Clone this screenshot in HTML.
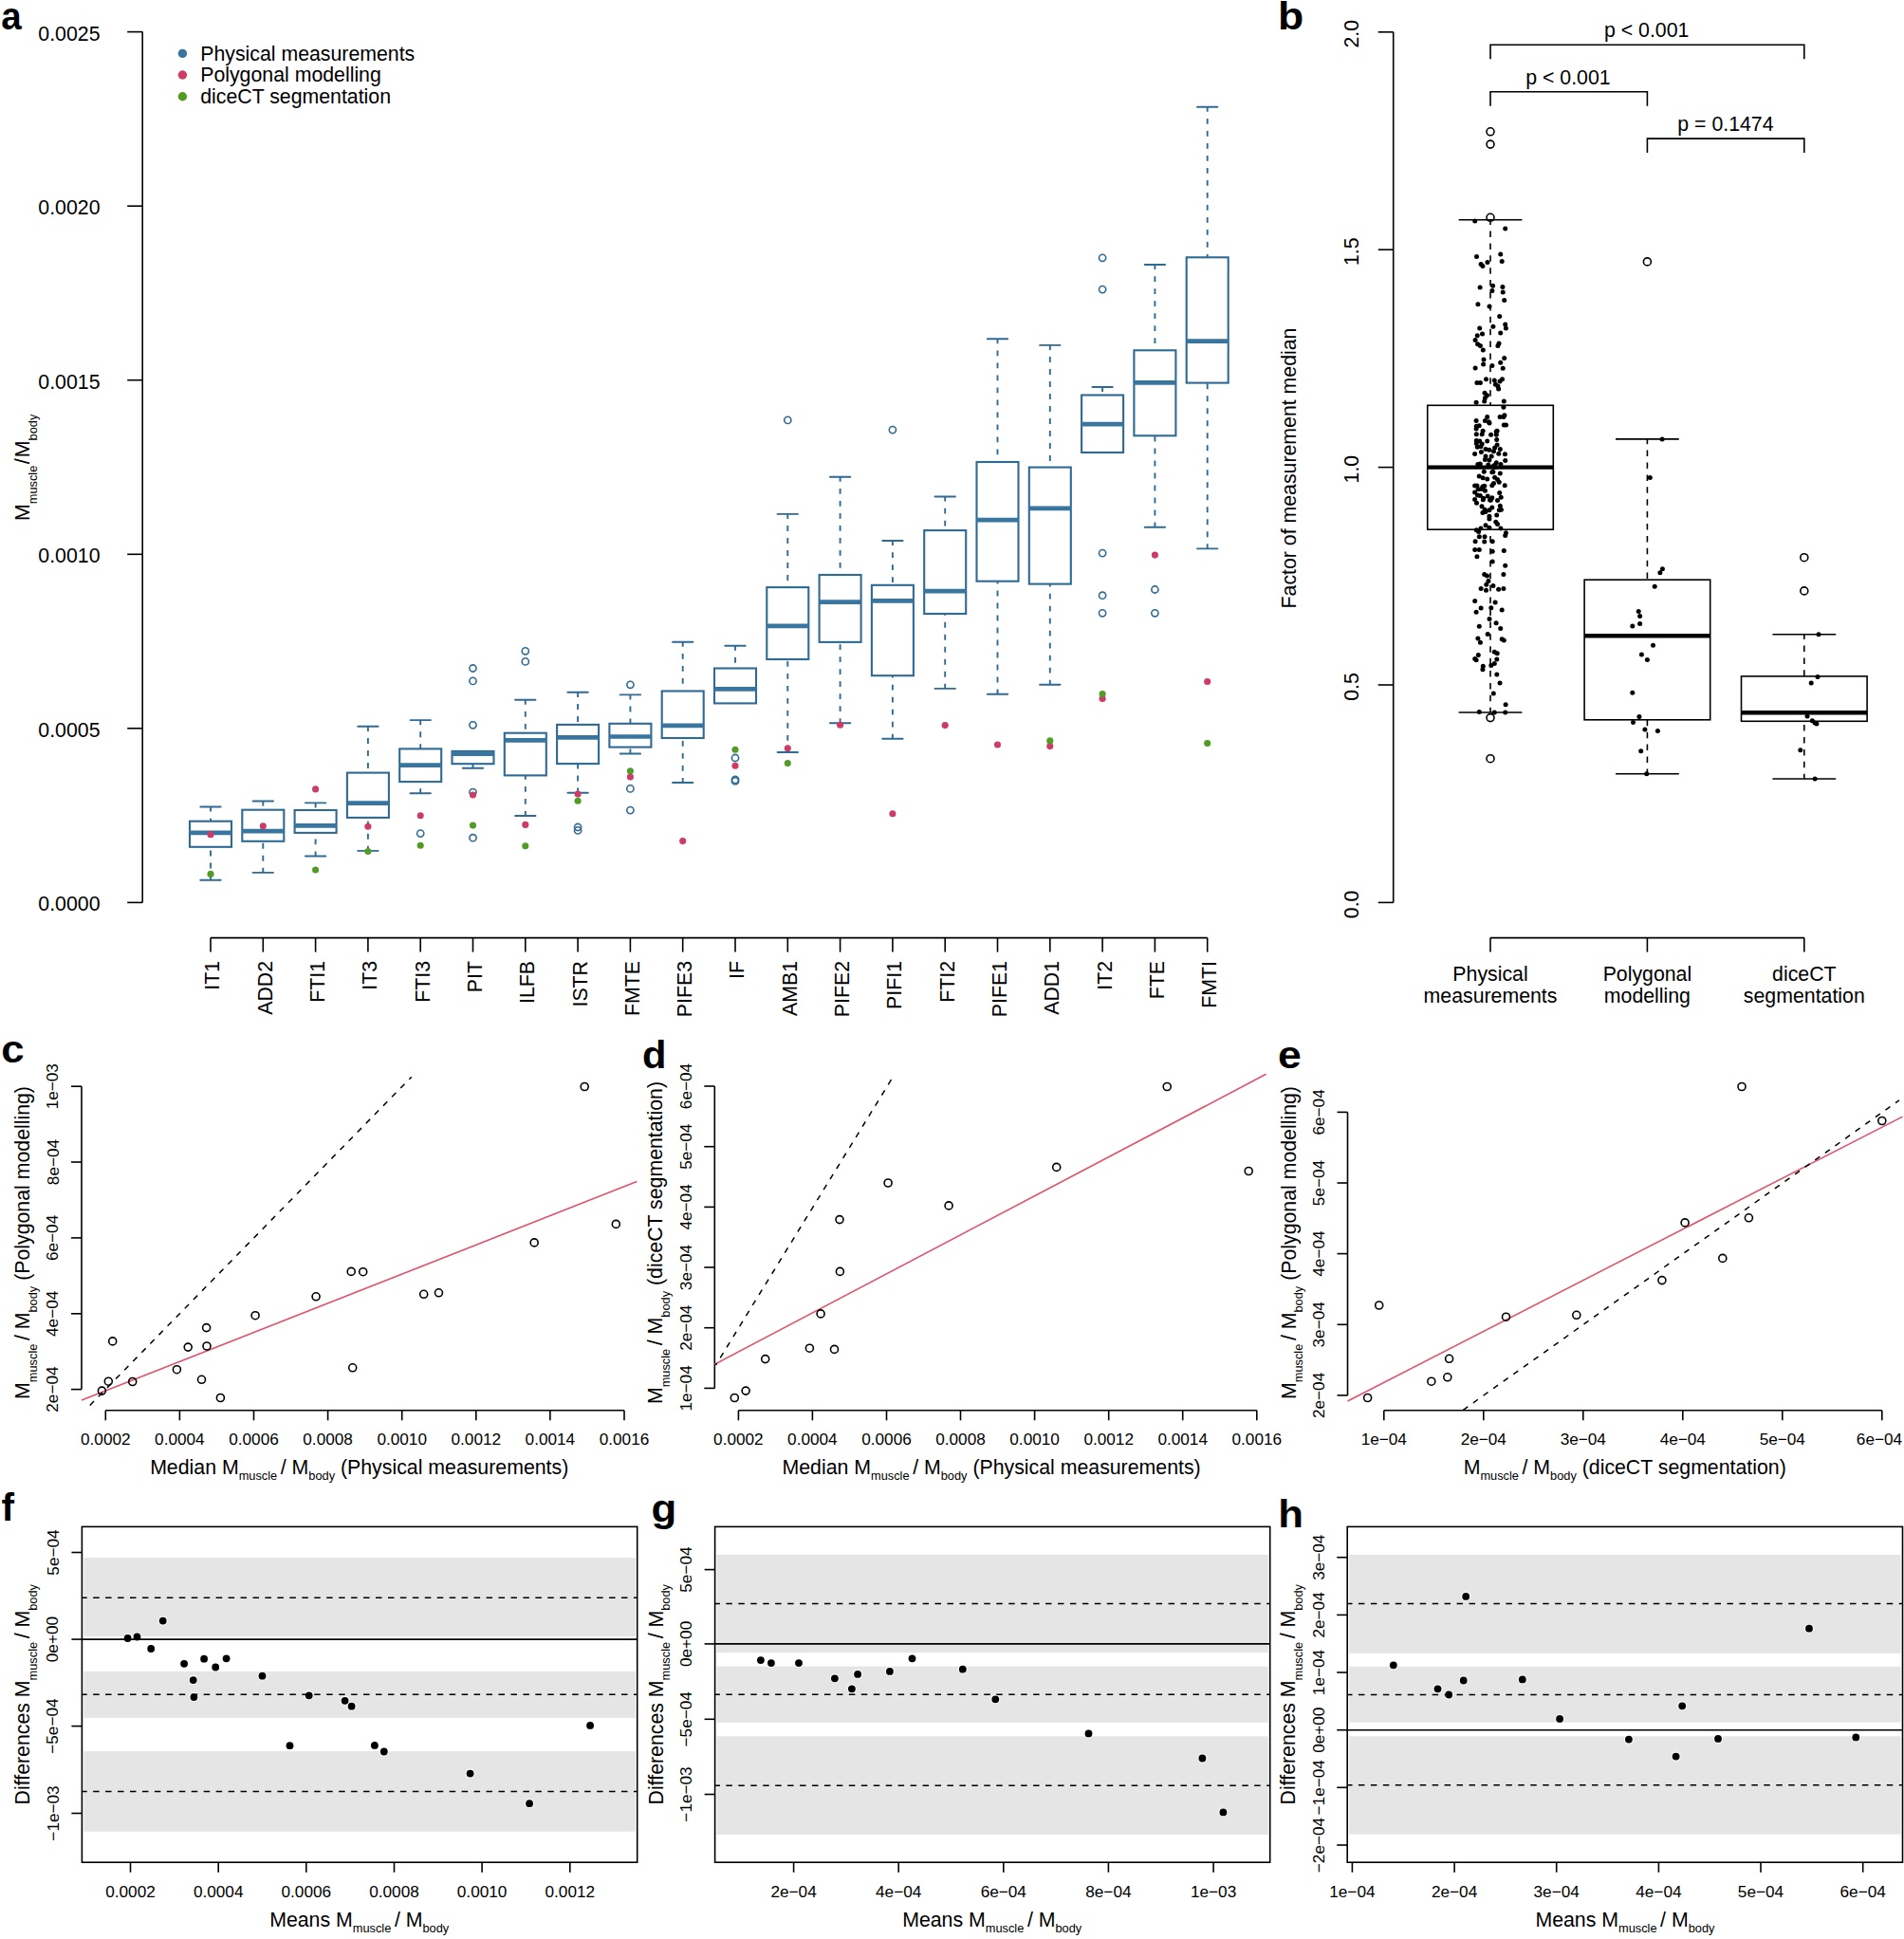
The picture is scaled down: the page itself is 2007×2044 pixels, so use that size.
<!DOCTYPE html>
<html><head><meta charset="utf-8"><title>Figure</title>
<style>html,body{margin:0;padding:0;background:#fff}svg{display:block}</style></head>
<body>
<svg width="2007" height="2044" viewBox="0 0 2007 2044" font-family="Liberation Sans, Arial, Helvetica, sans-serif" fill="#000">
<rect width="2007" height="2044" fill="#fff"/>
<text transform="translate(1.2 30.7) scale(0.95 1)" font-size="40.5" font-weight="bold">a</text>
<text transform="translate(1347.0 30.9) scale(1.1 1)" font-size="40.5" font-weight="bold">b</text>
<text transform="translate(1.3 1119.5) scale(1.08 1)" font-size="40.5" font-weight="bold">c</text>
<text transform="translate(676.9 1125.7) scale(1.03 1)" font-size="40.5" font-weight="bold">d</text>
<text transform="translate(1346.9 1125.7) scale(1.1 1)" font-size="40.5" font-weight="bold">e</text>
<text transform="translate(1.4 1603.0) scale(1.0 1)" font-size="40.5" font-weight="bold">f</text>
<text transform="translate(686.4 1604.1) scale(1.08 1)" font-size="40.5" font-weight="bold">g</text>
<text transform="translate(1347.2 1609.6) scale(1.08 1)" font-size="40.5" font-weight="bold">h</text>
<line x1="150.2" y1="951.4" x2="150.2" y2="33.6" stroke="#000" stroke-width="1.6"/>
<line x1="134.2" y1="951.4" x2="150.2" y2="951.4" stroke="#000" stroke-width="1.6"/>
<text x="105.5" y="960.4" font-size="21.3" text-anchor="end" >0.0000</text>
<line x1="134.2" y1="767.8" x2="150.2" y2="767.8" stroke="#000" stroke-width="1.6"/>
<text x="105.5" y="776.8" font-size="21.3" text-anchor="end" >0.0005</text>
<line x1="134.2" y1="584.3" x2="150.2" y2="584.3" stroke="#000" stroke-width="1.6"/>
<text x="105.5" y="593.3" font-size="21.3" text-anchor="end" >0.0010</text>
<line x1="134.2" y1="400.7" x2="150.2" y2="400.7" stroke="#000" stroke-width="1.6"/>
<text x="105.5" y="409.7" font-size="21.3" text-anchor="end" >0.0015</text>
<line x1="134.2" y1="217.2" x2="150.2" y2="217.2" stroke="#000" stroke-width="1.6"/>
<text x="105.5" y="226.2" font-size="21.3" text-anchor="end" >0.0020</text>
<line x1="134.2" y1="33.6" x2="150.2" y2="33.6" stroke="#000" stroke-width="1.6"/>
<text x="105.5" y="42.6" font-size="21.3" text-anchor="end" >0.0025</text>
<text x="30.9" y="492.8" font-size="21.3" text-anchor="middle" transform="rotate(-90 30.9 492.8)" >M<tspan font-size="12.8" dy="7.9">muscle</tspan><tspan dy="-7.9" dx="1.3">/</tspan><tspan dx="1.3">M</tspan><tspan font-size="12.8" dy="7.9">body</tspan></text>
<circle cx="192.4" cy="56.4" r="4.7" fill="#3876A0"/>
<text x="211.2" y="63.7" font-size="21.3" text-anchor="start" >Physical measurements</text>
<circle cx="192.4" cy="79.0" r="4.7" fill="#CD3C66"/>
<text x="211.2" y="86.3" font-size="21.3" text-anchor="start" >Polygonal modelling</text>
<circle cx="192.4" cy="101.8" r="4.7" fill="#529C26"/>
<text x="211.2" y="109.1" font-size="21.3" text-anchor="start" >diceCT segmentation</text>
<line x1="222.0" y1="988.6" x2="1272.7" y2="988.6" stroke="#000" stroke-width="1.6"/>
<line x1="222.0" y1="988.6" x2="222.0" y2="1003.6" stroke="#000" stroke-width="1.6"/>
<text x="231.4" y="1013.0" font-size="21.3" text-anchor="end" transform="rotate(-90 231.4 1013.0)" >IT1</text>
<line x1="277.3" y1="988.6" x2="277.3" y2="1003.6" stroke="#000" stroke-width="1.6"/>
<text x="286.7" y="1013.0" font-size="21.3" text-anchor="end" transform="rotate(-90 286.7 1013.0)" >ADD2</text>
<line x1="332.6" y1="988.6" x2="332.6" y2="1003.6" stroke="#000" stroke-width="1.6"/>
<text x="342.0" y="1013.0" font-size="21.3" text-anchor="end" transform="rotate(-90 342.0 1013.0)" >FTI1</text>
<line x1="387.9" y1="988.6" x2="387.9" y2="1003.6" stroke="#000" stroke-width="1.6"/>
<text x="397.3" y="1013.0" font-size="21.3" text-anchor="end" transform="rotate(-90 397.3 1013.0)" >IT3</text>
<line x1="443.2" y1="988.6" x2="443.2" y2="1003.6" stroke="#000" stroke-width="1.6"/>
<text x="452.6" y="1013.0" font-size="21.3" text-anchor="end" transform="rotate(-90 452.6 1013.0)" >FTI3</text>
<line x1="498.5" y1="988.6" x2="498.5" y2="1003.6" stroke="#000" stroke-width="1.6"/>
<text x="507.9" y="1013.0" font-size="21.3" text-anchor="end" transform="rotate(-90 507.9 1013.0)" >PIT</text>
<line x1="553.8" y1="988.6" x2="553.8" y2="1003.6" stroke="#000" stroke-width="1.6"/>
<text x="563.2" y="1013.0" font-size="21.3" text-anchor="end" transform="rotate(-90 563.2 1013.0)" >ILFB</text>
<line x1="609.1" y1="988.6" x2="609.1" y2="1003.6" stroke="#000" stroke-width="1.6"/>
<text x="618.5" y="1013.0" font-size="21.3" text-anchor="end" transform="rotate(-90 618.5 1013.0)" >ISTR</text>
<line x1="664.4" y1="988.6" x2="664.4" y2="1003.6" stroke="#000" stroke-width="1.6"/>
<text x="673.8" y="1013.0" font-size="21.3" text-anchor="end" transform="rotate(-90 673.8 1013.0)" >FMTE</text>
<line x1="719.7" y1="988.6" x2="719.7" y2="1003.6" stroke="#000" stroke-width="1.6"/>
<text x="729.1" y="1013.0" font-size="21.3" text-anchor="end" transform="rotate(-90 729.1 1013.0)" >PIFE3</text>
<line x1="775.0" y1="988.6" x2="775.0" y2="1003.6" stroke="#000" stroke-width="1.6"/>
<text x="784.4" y="1013.0" font-size="21.3" text-anchor="end" transform="rotate(-90 784.4 1013.0)" >IF</text>
<line x1="830.3" y1="988.6" x2="830.3" y2="1003.6" stroke="#000" stroke-width="1.6"/>
<text x="839.7" y="1013.0" font-size="21.3" text-anchor="end" transform="rotate(-90 839.7 1013.0)" >AMB1</text>
<line x1="885.6" y1="988.6" x2="885.6" y2="1003.6" stroke="#000" stroke-width="1.6"/>
<text x="895.0" y="1013.0" font-size="21.3" text-anchor="end" transform="rotate(-90 895.0 1013.0)" >PIFE2</text>
<line x1="940.9" y1="988.6" x2="940.9" y2="1003.6" stroke="#000" stroke-width="1.6"/>
<text x="950.3" y="1013.0" font-size="21.3" text-anchor="end" transform="rotate(-90 950.3 1013.0)" >PIFI1</text>
<line x1="996.2" y1="988.6" x2="996.2" y2="1003.6" stroke="#000" stroke-width="1.6"/>
<text x="1005.6" y="1013.0" font-size="21.3" text-anchor="end" transform="rotate(-90 1005.6 1013.0)" >FTI2</text>
<line x1="1051.5" y1="988.6" x2="1051.5" y2="1003.6" stroke="#000" stroke-width="1.6"/>
<text x="1060.9" y="1013.0" font-size="21.3" text-anchor="end" transform="rotate(-90 1060.9 1013.0)" >PIFE1</text>
<line x1="1106.8" y1="988.6" x2="1106.8" y2="1003.6" stroke="#000" stroke-width="1.6"/>
<text x="1116.2" y="1013.0" font-size="21.3" text-anchor="end" transform="rotate(-90 1116.2 1013.0)" >ADD1</text>
<line x1="1162.1" y1="988.6" x2="1162.1" y2="1003.6" stroke="#000" stroke-width="1.6"/>
<text x="1171.5" y="1013.0" font-size="21.3" text-anchor="end" transform="rotate(-90 1171.5 1013.0)" >IT2</text>
<line x1="1217.4" y1="988.6" x2="1217.4" y2="1003.6" stroke="#000" stroke-width="1.6"/>
<text x="1226.8" y="1013.0" font-size="21.3" text-anchor="end" transform="rotate(-90 1226.8 1013.0)" >FTE</text>
<line x1="1272.7" y1="988.6" x2="1272.7" y2="1003.6" stroke="#000" stroke-width="1.6"/>
<text x="1282.1" y="1013.0" font-size="21.3" text-anchor="end" transform="rotate(-90 1282.1 1013.0)" >FMTI</text>
<g stroke="#2F6A95" stroke-width="1.9" fill="none" stroke-linecap="round">
<line x1="222.0" y1="850.5" x2="222.0" y2="865.7" stroke-dasharray="5.9 7.1" stroke-dashoffset="0.8" stroke-linecap="butt"/>
<line x1="211.3" y1="850.5" x2="232.7" y2="850.5"/>
<line x1="222.0" y1="927.7" x2="222.0" y2="892.8" stroke-dasharray="5.9 7.1" stroke-dashoffset="0.8" stroke-linecap="butt"/>
<line x1="211.3" y1="927.7" x2="232.7" y2="927.7"/>
<rect x="200.0" y="865.7" width="44.0" height="27.1" fill="#fff" stroke-width="2.1"/>
<line x1="200.0" y1="877.9" x2="244.0" y2="877.9" stroke-width="4.7" stroke-linecap="butt" stroke="#3876A0"/>
</g>
<circle cx="222.0" cy="879.8" r="3.55" fill="#CD3C66"/>
<circle cx="222.0" cy="921.4" r="3.55" fill="#529C26"/>
<g stroke="#2F6A95" stroke-width="1.9" fill="none" stroke-linecap="round">
<line x1="277.3" y1="844.5" x2="277.3" y2="853.7" stroke-dasharray="5.9 7.1" stroke-dashoffset="0.8" stroke-linecap="butt"/>
<line x1="266.6" y1="844.5" x2="288.0" y2="844.5"/>
<line x1="277.3" y1="919.9" x2="277.3" y2="886.8" stroke-dasharray="5.9 7.1" stroke-dashoffset="0.8" stroke-linecap="butt"/>
<line x1="266.6" y1="919.9" x2="288.0" y2="919.9"/>
<rect x="255.3" y="853.7" width="44.0" height="33.1" fill="#fff" stroke-width="2.1"/>
<line x1="255.3" y1="876.1" x2="299.3" y2="876.1" stroke-width="4.7" stroke-linecap="butt" stroke="#3876A0"/>
</g>
<circle cx="277.3" cy="870.7" r="3.55" fill="#CD3C66"/>
<g stroke="#2F6A95" stroke-width="1.9" fill="none" stroke-linecap="round">
<line x1="332.6" y1="846.4" x2="332.6" y2="854.0" stroke-dasharray="5.9 7.1" stroke-dashoffset="0.8" stroke-linecap="butt"/>
<line x1="321.9" y1="846.4" x2="343.3" y2="846.4"/>
<line x1="332.6" y1="902.5" x2="332.6" y2="877.9" stroke-dasharray="5.9 7.1" stroke-dashoffset="0.8" stroke-linecap="butt"/>
<line x1="321.9" y1="902.5" x2="343.3" y2="902.5"/>
<rect x="310.6" y="854.0" width="44.0" height="23.9" fill="#fff" stroke-width="2.1"/>
<line x1="310.6" y1="870.4" x2="354.6" y2="870.4" stroke-width="4.7" stroke-linecap="butt" stroke="#3876A0"/>
</g>
<circle cx="332.6" cy="831.9" r="3.55" fill="#CD3C66"/>
<circle cx="332.6" cy="917.0" r="3.55" fill="#529C26"/>
<g stroke="#2F6A95" stroke-width="1.9" fill="none" stroke-linecap="round">
<line x1="387.9" y1="765.8" x2="387.9" y2="814.6" stroke-dasharray="5.9 7.1" stroke-dashoffset="0.8" stroke-linecap="butt"/>
<line x1="377.2" y1="765.8" x2="398.6" y2="765.8"/>
<line x1="387.9" y1="896.9" x2="387.9" y2="861.9" stroke-dasharray="5.9 7.1" stroke-dashoffset="0.8" stroke-linecap="butt"/>
<line x1="377.2" y1="896.9" x2="398.6" y2="896.9"/>
<rect x="365.9" y="814.6" width="44.0" height="47.3" fill="#fff" stroke-width="2.1"/>
<line x1="365.9" y1="846.7" x2="409.9" y2="846.7" stroke-width="4.7" stroke-linecap="butt" stroke="#3876A0"/>
</g>
<circle cx="387.9" cy="871.3" r="3.55" fill="#CD3C66"/>
<circle cx="387.9" cy="897.5" r="3.55" fill="#529C26"/>
<g stroke="#2F6A95" stroke-width="1.9" fill="none" stroke-linecap="round">
<line x1="443.2" y1="759.1" x2="443.2" y2="789.4" stroke-dasharray="5.9 7.1" stroke-dashoffset="0.8" stroke-linecap="butt"/>
<line x1="432.5" y1="759.1" x2="453.9" y2="759.1"/>
<line x1="443.2" y1="836.3" x2="443.2" y2="824.1" stroke-dasharray="5.9 7.1" stroke-dashoffset="0.8" stroke-linecap="butt"/>
<line x1="432.5" y1="836.3" x2="453.9" y2="836.3"/>
<rect x="421.2" y="789.4" width="44.0" height="34.7" fill="#fff" stroke-width="2.1"/>
<line x1="421.2" y1="806.7" x2="465.2" y2="806.7" stroke-width="4.7" stroke-linecap="butt" stroke="#3876A0"/>
<circle cx="443.2" cy="878.6" r="3.6" stroke-width="1.6"/>
</g>
<circle cx="443.2" cy="859.7" r="3.55" fill="#CD3C66"/>
<circle cx="443.2" cy="891.2" r="3.55" fill="#529C26"/>
<g stroke="#2F6A95" stroke-width="1.9" fill="none" stroke-linecap="round">
<line x1="498.5" y1="809.8" x2="498.5" y2="805.2" stroke-dasharray="5.9 7.1" stroke-dashoffset="0.8" stroke-linecap="butt"/>
<line x1="487.8" y1="809.8" x2="509.2" y2="809.8"/>
<rect x="476.5" y="791.9" width="44.0" height="13.3" fill="#fff" stroke-width="2.1"/>
<line x1="476.5" y1="794.7" x2="520.5" y2="794.7" stroke-width="4.7" stroke-linecap="butt" stroke="#3876A0"/>
<circle cx="498.5" cy="704.5" r="3.6" stroke-width="1.6"/>
<circle cx="498.5" cy="717.9" r="3.6" stroke-width="1.6"/>
<circle cx="498.5" cy="764.3" r="3.6" stroke-width="1.6"/>
<circle cx="498.5" cy="835.1" r="3.6" stroke-width="1.6"/>
<circle cx="498.5" cy="883.2" r="3.6" stroke-width="1.6"/>
</g>
<circle cx="498.5" cy="838.0" r="3.55" fill="#CD3C66"/>
<circle cx="498.5" cy="870.1" r="3.55" fill="#529C26"/>
<g stroke="#2F6A95" stroke-width="1.9" fill="none" stroke-linecap="round">
<line x1="553.8" y1="737.7" x2="553.8" y2="772.7" stroke-dasharray="5.9 7.1" stroke-dashoffset="0.8" stroke-linecap="butt"/>
<line x1="543.1" y1="737.7" x2="564.5" y2="737.7"/>
<line x1="553.8" y1="860.0" x2="553.8" y2="817.4" stroke-dasharray="5.9 7.1" stroke-dashoffset="0.8" stroke-linecap="butt"/>
<line x1="543.1" y1="860.0" x2="564.5" y2="860.0"/>
<rect x="531.8" y="772.7" width="44.0" height="44.7" fill="#fff" stroke-width="2.1"/>
<line x1="531.8" y1="780.3" x2="575.8" y2="780.3" stroke-width="4.7" stroke-linecap="butt" stroke="#3876A0"/>
<circle cx="553.8" cy="686.3" r="3.6" stroke-width="1.6"/>
<circle cx="553.8" cy="697.4" r="3.6" stroke-width="1.6"/>
</g>
<circle cx="553.8" cy="869.4" r="3.55" fill="#CD3C66"/>
<circle cx="553.8" cy="891.8" r="3.55" fill="#529C26"/>
<g stroke="#2F6A95" stroke-width="1.9" fill="none" stroke-linecap="round">
<line x1="609.1" y1="729.8" x2="609.1" y2="763.9" stroke-dasharray="5.9 7.1" stroke-dashoffset="0.8" stroke-linecap="butt"/>
<line x1="598.4" y1="729.8" x2="619.8" y2="729.8"/>
<line x1="609.1" y1="835.7" x2="609.1" y2="805.1" stroke-dasharray="5.9 7.1" stroke-dashoffset="0.8" stroke-linecap="butt"/>
<line x1="598.4" y1="835.7" x2="619.8" y2="835.7"/>
<rect x="587.1" y="763.9" width="44.0" height="41.2" fill="#fff" stroke-width="2.1"/>
<line x1="587.1" y1="777.4" x2="631.1" y2="777.4" stroke-width="4.7" stroke-linecap="butt" stroke="#3876A0"/>
<circle cx="609.1" cy="872.0" r="3.6" stroke-width="1.6"/>
<circle cx="609.1" cy="875.4" r="3.6" stroke-width="1.6"/>
</g>
<circle cx="609.1" cy="837.0" r="3.55" fill="#CD3C66"/>
<circle cx="609.1" cy="844.2" r="3.55" fill="#529C26"/>
<g stroke="#2F6A95" stroke-width="1.9" fill="none" stroke-linecap="round">
<line x1="664.4" y1="732.4" x2="664.4" y2="762.8" stroke-dasharray="5.9 7.1" stroke-dashoffset="0.8" stroke-linecap="butt"/>
<line x1="653.7" y1="732.4" x2="675.1" y2="732.4"/>
<line x1="664.4" y1="794.5" x2="664.4" y2="787.6" stroke-dasharray="5.9 7.1" stroke-dashoffset="0.8" stroke-linecap="butt"/>
<line x1="653.7" y1="794.5" x2="675.1" y2="794.5"/>
<rect x="642.4" y="762.8" width="44.0" height="24.8" fill="#fff" stroke-width="2.1"/>
<line x1="642.4" y1="776.5" x2="686.4" y2="776.5" stroke-width="4.7" stroke-linecap="butt" stroke="#3876A0"/>
<circle cx="664.4" cy="721.8" r="3.6" stroke-width="1.6"/>
<circle cx="664.4" cy="831.4" r="3.6" stroke-width="1.6"/>
<circle cx="664.4" cy="854.1" r="3.6" stroke-width="1.6"/>
</g>
<circle cx="664.4" cy="819.0" r="3.55" fill="#CD3C66"/>
<circle cx="664.4" cy="812.8" r="3.55" fill="#529C26"/>
<g stroke="#2F6A95" stroke-width="1.9" fill="none" stroke-linecap="round">
<line x1="719.7" y1="676.7" x2="719.7" y2="728.5" stroke-dasharray="5.9 7.1" stroke-dashoffset="0.8" stroke-linecap="butt"/>
<line x1="709.0" y1="676.7" x2="730.4" y2="676.7"/>
<line x1="719.7" y1="825.0" x2="719.7" y2="778.0" stroke-dasharray="5.9 7.1" stroke-dashoffset="0.8" stroke-linecap="butt"/>
<line x1="709.0" y1="825.0" x2="730.4" y2="825.0"/>
<rect x="697.7" y="728.5" width="44.0" height="49.5" fill="#fff" stroke-width="2.1"/>
<line x1="697.7" y1="764.9" x2="741.7" y2="764.9" stroke-width="4.7" stroke-linecap="butt" stroke="#3876A0"/>
</g>
<circle cx="719.7" cy="886.6" r="3.55" fill="#CD3C66"/>
<g stroke="#2F6A95" stroke-width="1.9" fill="none" stroke-linecap="round">
<line x1="775.0" y1="680.7" x2="775.0" y2="704.5" stroke-dasharray="5.9 7.1" stroke-dashoffset="0.8" stroke-linecap="butt"/>
<line x1="764.3" y1="680.7" x2="785.7" y2="680.7"/>
<rect x="753.0" y="704.5" width="44.0" height="36.9" fill="#fff" stroke-width="2.1"/>
<line x1="753.0" y1="726.3" x2="797.0" y2="726.3" stroke-width="4.7" stroke-linecap="butt" stroke="#3876A0"/>
<circle cx="775.0" cy="799.0" r="3.6" stroke-width="1.6"/>
<circle cx="775.0" cy="821.9" r="3.6" stroke-width="1.6"/>
<circle cx="775.0" cy="823.4" r="3.6" stroke-width="1.6"/>
</g>
<circle cx="775.0" cy="807.3" r="3.55" fill="#CD3C66"/>
<circle cx="775.0" cy="790.3" r="3.55" fill="#529C26"/>
<g stroke="#2F6A95" stroke-width="1.9" fill="none" stroke-linecap="round">
<line x1="830.3" y1="541.9" x2="830.3" y2="619.1" stroke-dasharray="5.9 7.1" stroke-dashoffset="0.8" stroke-linecap="butt"/>
<line x1="819.6" y1="541.9" x2="841.0" y2="541.9"/>
<line x1="830.3" y1="793.0" x2="830.3" y2="695.0" stroke-dasharray="5.9 7.1" stroke-dashoffset="0.8" stroke-linecap="butt"/>
<line x1="819.6" y1="793.0" x2="841.0" y2="793.0"/>
<rect x="808.3" y="619.1" width="44.0" height="75.9" fill="#fff" stroke-width="2.1"/>
<line x1="808.3" y1="659.9" x2="852.3" y2="659.9" stroke-width="4.7" stroke-linecap="butt" stroke="#3876A0"/>
<circle cx="830.3" cy="442.9" r="3.6" stroke-width="1.6"/>
</g>
<circle cx="830.3" cy="788.8" r="3.55" fill="#CD3C66"/>
<circle cx="830.3" cy="804.6" r="3.55" fill="#529C26"/>
<g stroke="#2F6A95" stroke-width="1.9" fill="none" stroke-linecap="round">
<line x1="885.6" y1="502.7" x2="885.6" y2="606.0" stroke-dasharray="5.9 7.1" stroke-dashoffset="0.8" stroke-linecap="butt"/>
<line x1="874.9" y1="502.7" x2="896.3" y2="502.7"/>
<line x1="885.6" y1="762.3" x2="885.6" y2="676.9" stroke-dasharray="5.9 7.1" stroke-dashoffset="0.8" stroke-linecap="butt"/>
<line x1="874.9" y1="762.3" x2="896.3" y2="762.3"/>
<rect x="863.6" y="606.0" width="44.0" height="70.9" fill="#fff" stroke-width="2.1"/>
<line x1="863.6" y1="634.6" x2="907.6" y2="634.6" stroke-width="4.7" stroke-linecap="butt" stroke="#3876A0"/>
</g>
<circle cx="885.6" cy="764.3" r="3.55" fill="#CD3C66"/>
<g stroke="#2F6A95" stroke-width="1.9" fill="none" stroke-linecap="round">
<line x1="940.9" y1="570.0" x2="940.9" y2="616.8" stroke-dasharray="5.9 7.1" stroke-dashoffset="0.8" stroke-linecap="butt"/>
<line x1="930.2" y1="570.0" x2="951.6" y2="570.0"/>
<line x1="940.9" y1="778.8" x2="940.9" y2="712.2" stroke-dasharray="5.9 7.1" stroke-dashoffset="0.8" stroke-linecap="butt"/>
<line x1="930.2" y1="778.8" x2="951.6" y2="778.8"/>
<rect x="918.9" y="616.8" width="44.0" height="95.4" fill="#fff" stroke-width="2.1"/>
<line x1="918.9" y1="633.3" x2="962.9" y2="633.3" stroke-width="4.7" stroke-linecap="butt" stroke="#3876A0"/>
<circle cx="940.9" cy="453.1" r="3.6" stroke-width="1.6"/>
</g>
<circle cx="940.9" cy="857.7" r="3.55" fill="#CD3C66"/>
<g stroke="#2F6A95" stroke-width="1.9" fill="none" stroke-linecap="round">
<line x1="996.2" y1="523.5" x2="996.2" y2="559.1" stroke-dasharray="5.9 7.1" stroke-dashoffset="0.8" stroke-linecap="butt"/>
<line x1="985.5" y1="523.5" x2="1006.9" y2="523.5"/>
<line x1="996.2" y1="725.9" x2="996.2" y2="647.0" stroke-dasharray="5.9 7.1" stroke-dashoffset="0.8" stroke-linecap="butt"/>
<line x1="985.5" y1="725.9" x2="1006.9" y2="725.9"/>
<rect x="974.2" y="559.1" width="44.0" height="87.9" fill="#fff" stroke-width="2.1"/>
<line x1="974.2" y1="623.2" x2="1018.2" y2="623.2" stroke-width="4.7" stroke-linecap="butt" stroke="#3876A0"/>
</g>
<circle cx="996.2" cy="764.6" r="3.55" fill="#CD3C66"/>
<g stroke="#2F6A95" stroke-width="1.9" fill="none" stroke-linecap="round">
<line x1="1051.5" y1="357.2" x2="1051.5" y2="487.0" stroke-dasharray="5.9 7.1" stroke-dashoffset="0.8" stroke-linecap="butt"/>
<line x1="1040.8" y1="357.2" x2="1062.2" y2="357.2"/>
<line x1="1051.5" y1="731.7" x2="1051.5" y2="612.7" stroke-dasharray="5.9 7.1" stroke-dashoffset="0.8" stroke-linecap="butt"/>
<line x1="1040.8" y1="731.7" x2="1062.2" y2="731.7"/>
<rect x="1029.5" y="487.0" width="44.0" height="125.7" fill="#fff" stroke-width="2.1"/>
<line x1="1029.5" y1="548.2" x2="1073.5" y2="548.2" stroke-width="4.7" stroke-linecap="butt" stroke="#3876A0"/>
</g>
<circle cx="1051.5" cy="785.0" r="3.55" fill="#CD3C66"/>
<g stroke="#2F6A95" stroke-width="1.9" fill="none" stroke-linecap="round">
<line x1="1106.8" y1="363.9" x2="1106.8" y2="492.6" stroke-dasharray="5.9 7.1" stroke-dashoffset="0.8" stroke-linecap="butt"/>
<line x1="1096.1" y1="363.9" x2="1117.5" y2="363.9"/>
<line x1="1106.8" y1="721.8" x2="1106.8" y2="615.6" stroke-dasharray="5.9 7.1" stroke-dashoffset="0.8" stroke-linecap="butt"/>
<line x1="1096.1" y1="721.8" x2="1117.5" y2="721.8"/>
<rect x="1084.8" y="492.6" width="44.0" height="123.0" fill="#fff" stroke-width="2.1"/>
<line x1="1084.8" y1="535.9" x2="1128.8" y2="535.9" stroke-width="4.7" stroke-linecap="butt" stroke="#3876A0"/>
</g>
<circle cx="1106.8" cy="786.6" r="3.55" fill="#CD3C66"/>
<circle cx="1106.8" cy="780.9" r="3.55" fill="#529C26"/>
<g stroke="#2F6A95" stroke-width="1.9" fill="none" stroke-linecap="round">
<line x1="1162.1" y1="408.0" x2="1162.1" y2="416.5" stroke-dasharray="5.9 7.1" stroke-dashoffset="0.8" stroke-linecap="butt"/>
<line x1="1151.4" y1="408.0" x2="1172.8" y2="408.0"/>
<rect x="1140.1" y="416.5" width="44.0" height="60.5" fill="#fff" stroke-width="2.1"/>
<line x1="1140.1" y1="447.2" x2="1184.1" y2="447.2" stroke-width="4.7" stroke-linecap="butt" stroke="#3876A0"/>
<circle cx="1162.1" cy="271.8" r="3.6" stroke-width="1.6"/>
<circle cx="1162.1" cy="305.1" r="3.6" stroke-width="1.6"/>
<circle cx="1162.1" cy="583.1" r="3.6" stroke-width="1.6"/>
<circle cx="1162.1" cy="627.7" r="3.6" stroke-width="1.6"/>
<circle cx="1162.1" cy="646.3" r="3.6" stroke-width="1.6"/>
</g>
<circle cx="1162.1" cy="736.5" r="3.55" fill="#CD3C66"/>
<circle cx="1162.1" cy="731.6" r="3.55" fill="#529C26"/>
<g stroke="#2F6A95" stroke-width="1.9" fill="none" stroke-linecap="round">
<line x1="1217.4" y1="279.0" x2="1217.4" y2="369.3" stroke-dasharray="5.9 7.1" stroke-dashoffset="0.8" stroke-linecap="butt"/>
<line x1="1206.7" y1="279.0" x2="1228.1" y2="279.0"/>
<line x1="1217.4" y1="555.7" x2="1217.4" y2="459.3" stroke-dasharray="5.9 7.1" stroke-dashoffset="0.8" stroke-linecap="butt"/>
<line x1="1206.7" y1="555.7" x2="1228.1" y2="555.7"/>
<rect x="1195.4" y="369.3" width="44.0" height="90.0" fill="#fff" stroke-width="2.1"/>
<line x1="1195.4" y1="403.3" x2="1239.4" y2="403.3" stroke-width="4.7" stroke-linecap="butt" stroke="#3876A0"/>
<circle cx="1217.4" cy="621.5" r="3.6" stroke-width="1.6"/>
<circle cx="1217.4" cy="646.3" r="3.6" stroke-width="1.6"/>
</g>
<circle cx="1217.4" cy="585.1" r="3.55" fill="#CD3C66"/>
<g stroke="#2F6A95" stroke-width="1.9" fill="none" stroke-linecap="round">
<line x1="1272.7" y1="112.7" x2="1272.7" y2="271.3" stroke-dasharray="5.9 7.1" stroke-dashoffset="0.8" stroke-linecap="butt"/>
<line x1="1262.0" y1="112.7" x2="1283.4" y2="112.7"/>
<line x1="1272.7" y1="578.4" x2="1272.7" y2="403.6" stroke-dasharray="5.9 7.1" stroke-dashoffset="0.8" stroke-linecap="butt"/>
<line x1="1262.0" y1="578.4" x2="1283.4" y2="578.4"/>
<rect x="1250.7" y="271.3" width="44.0" height="132.3" fill="#fff" stroke-width="2.1"/>
<line x1="1250.7" y1="359.7" x2="1294.7" y2="359.7" stroke-width="4.7" stroke-linecap="butt" stroke="#3876A0"/>
</g>
<circle cx="1272.7" cy="718.5" r="3.55" fill="#CD3C66"/>
<circle cx="1272.7" cy="783.5" r="3.55" fill="#529C26"/>
<line x1="1468.7" y1="951.4" x2="1468.7" y2="33.8" stroke="#000" stroke-width="1.6"/>
<line x1="1452.7" y1="951.4" x2="1468.7" y2="951.4" stroke="#000" stroke-width="1.6"/>
<text x="1431.9" y="953.4" font-size="21.3" text-anchor="middle" transform="rotate(-90 1431.9 953.4)" >0.0</text>
<line x1="1452.7" y1="722.0" x2="1468.7" y2="722.0" stroke="#000" stroke-width="1.6"/>
<text x="1431.9" y="724.0" font-size="21.3" text-anchor="middle" transform="rotate(-90 1431.9 724.0)" >0.5</text>
<line x1="1452.7" y1="492.6" x2="1468.7" y2="492.6" stroke="#000" stroke-width="1.6"/>
<text x="1431.9" y="494.6" font-size="21.3" text-anchor="middle" transform="rotate(-90 1431.9 494.6)" >1.0</text>
<line x1="1452.7" y1="263.2" x2="1468.7" y2="263.2" stroke="#000" stroke-width="1.6"/>
<text x="1431.9" y="265.2" font-size="21.3" text-anchor="middle" transform="rotate(-90 1431.9 265.2)" >1.5</text>
<line x1="1452.7" y1="33.8" x2="1468.7" y2="33.8" stroke="#000" stroke-width="1.6"/>
<text x="1431.9" y="35.8" font-size="21.3" text-anchor="middle" transform="rotate(-90 1431.9 35.8)" >2.0</text>
<text x="1365.8" y="493.5" font-size="21.3" text-anchor="middle" transform="rotate(-90 1365.8 493.5)" >Factor of measurement median</text>
<line x1="1571.0" y1="988.6" x2="1901.8" y2="988.6" stroke="#000" stroke-width="1.6"/>
<line x1="1571.0" y1="988.6" x2="1571.0" y2="1003.6" stroke="#000" stroke-width="1.6"/>
<line x1="1736.4" y1="988.6" x2="1736.4" y2="1003.6" stroke="#000" stroke-width="1.6"/>
<line x1="1901.8" y1="988.6" x2="1901.8" y2="1003.6" stroke="#000" stroke-width="1.6"/>
<text x="1571.0" y="1034.2" font-size="21.3" text-anchor="middle" >Physical</text>
<text x="1571.0" y="1057.0" font-size="21.3" text-anchor="middle" >measurements</text>
<text x="1736.4" y="1034.2" font-size="21.3" text-anchor="middle" >Polygonal</text>
<text x="1736.4" y="1057.0" font-size="21.3" text-anchor="middle" >modelling</text>
<text x="1901.8" y="1034.2" font-size="21.3" text-anchor="middle" >diceCT</text>
<text x="1901.8" y="1057.0" font-size="21.3" text-anchor="middle" >segmentation</text>
<polyline points="1571.0,62.3 1571.0,47.3 1901.8,47.3 1901.8,62.3" fill="none" stroke="#000" stroke-width="1.6"/>
<text x="1735.7" y="39.1" font-size="21.3" text-anchor="middle" >p &lt; 0.001</text>
<polyline points="1571.0,111.7 1571.0,96.7 1736.4,96.7 1736.4,111.7" fill="none" stroke="#000" stroke-width="1.6"/>
<text x="1652.9" y="88.9" font-size="21.3" text-anchor="middle" >p &lt; 0.001</text>
<polyline points="1736.4,161.1 1736.4,146.1 1901.8,146.1 1901.8,161.1" fill="none" stroke="#000" stroke-width="1.6"/>
<text x="1818.9" y="138.0" font-size="21.3" text-anchor="middle" >p = 0.1474</text>
<g stroke="#000" stroke-width="1.6" fill="none">
<line x1="1571.0" y1="231.8" x2="1571.0" y2="427.3" stroke-dasharray="6.5 6.4" stroke-dashoffset="1.2"/>
<line x1="1571.0" y1="751.0" x2="1571.0" y2="558.2" stroke-dasharray="6.5 6.4" stroke-dashoffset="1.2"/>
<line x1="1537.6" y1="231.8" x2="1604.4" y2="231.8"/>
<line x1="1537.6" y1="751.0" x2="1604.4" y2="751.0"/>
<rect x="1504.7" y="427.3" width="132.6" height="130.9"/>
<line x1="1504.7" y1="492.6" x2="1637.3" y2="492.6" stroke-width="4.4"/>
<circle cx="1571.0" cy="138.8" r="4.0"/>
<circle cx="1571.0" cy="152.1" r="4.0"/>
<circle cx="1571.0" cy="229.3" r="4.0"/>
<circle cx="1571.0" cy="756.6" r="4.0"/>
<circle cx="1571.0" cy="799.7" r="4.0"/>
</g>
<g stroke="#000" stroke-width="1.6" fill="none">
<line x1="1736.4" y1="462.9" x2="1736.4" y2="611.2" stroke-dasharray="6.5 6.4" stroke-dashoffset="1.2"/>
<line x1="1736.4" y1="815.7" x2="1736.4" y2="758.8" stroke-dasharray="6.5 6.4" stroke-dashoffset="1.2"/>
<line x1="1703.0" y1="462.9" x2="1769.8000000000002" y2="462.9"/>
<line x1="1703.0" y1="815.7" x2="1769.8000000000002" y2="815.7"/>
<rect x="1670.1" y="611.2" width="132.6" height="147.6"/>
<line x1="1670.1" y1="670.2" x2="1802.7" y2="670.2" stroke-width="4.4"/>
<circle cx="1736.4" cy="275.9" r="4.0"/>
</g>
<g stroke="#000" stroke-width="1.6" fill="none">
<line x1="1901.8" y1="668.8" x2="1901.8" y2="712.9" stroke-dasharray="6.5 6.4" stroke-dashoffset="1.2"/>
<line x1="1901.8" y1="821.0" x2="1901.8" y2="760.3" stroke-dasharray="6.5 6.4" stroke-dashoffset="1.2"/>
<line x1="1868.3999999999999" y1="668.8" x2="1935.2" y2="668.8"/>
<line x1="1868.3999999999999" y1="821.0" x2="1935.2" y2="821.0"/>
<rect x="1835.5" y="712.9" width="132.6" height="47.4"/>
<line x1="1835.5" y1="751.3" x2="1968.1" y2="751.3" stroke-width="4.4"/>
<circle cx="1901.8" cy="587.7" r="4.0"/>
<circle cx="1901.8" cy="622.9" r="4.0"/>
</g>
<g fill="#000">
<circle cx="1752.1" cy="462.9" r="2.5"/>
<circle cx="1739.3" cy="503.5" r="2.5"/>
<circle cx="1752.4" cy="599.8" r="2.5"/>
<circle cx="1749.9" cy="603.7" r="2.5"/>
<circle cx="1744.2" cy="618.3" r="2.5"/>
<circle cx="1727.2" cy="644.6" r="2.5"/>
<circle cx="1728.6" cy="649.6" r="2.5"/>
<circle cx="1728.6" cy="657.4" r="2.5"/>
<circle cx="1720.8" cy="659.9" r="2.5"/>
<circle cx="1742.5" cy="680.2" r="2.5"/>
<circle cx="1730.4" cy="690.1" r="2.5"/>
<circle cx="1736.4" cy="695.5" r="2.5"/>
<circle cx="1720.8" cy="730.3" r="2.5"/>
<circle cx="1727.9" cy="755.6" r="2.5"/>
<circle cx="1721.5" cy="761.6" r="2.5"/>
<circle cx="1733.9" cy="769.1" r="2.5"/>
<circle cx="1747.4" cy="770.5" r="2.5"/>
<circle cx="1729.7" cy="791.8" r="2.5"/>
<circle cx="1735.7" cy="815.7" r="2.5"/>
<circle cx="1917.0" cy="668.8" r="2.5"/>
<circle cx="1916.0" cy="713.6" r="2.5"/>
<circle cx="1909.2" cy="720.0" r="2.5"/>
<circle cx="1905.0" cy="754.9" r="2.5"/>
<circle cx="1910.3" cy="759.8" r="2.5"/>
<circle cx="1913.1" cy="762.0" r="2.5"/>
<circle cx="1914.9" cy="763.0" r="2.5"/>
<circle cx="1897.8" cy="790.8" r="2.5"/>
<circle cx="1913.1" cy="821.0" r="2.5"/>
<circle cx="1554.7" cy="232.9" r="2.5"/>
<circle cx="1586.7" cy="241.1" r="2.5"/>
<circle cx="1581.7" cy="268.1" r="2.5"/>
<circle cx="1556.5" cy="270.6" r="2.5"/>
<circle cx="1583.2" cy="275.6" r="2.5"/>
<circle cx="1567.9" cy="276.6" r="2.5"/>
<circle cx="1561.1" cy="278.4" r="2.5"/>
<circle cx="1562.9" cy="280.5" r="2.5"/>
<circle cx="1560.1" cy="302.9" r="2.5"/>
<circle cx="1573.6" cy="301.2" r="2.5"/>
<circle cx="1583.9" cy="302.6" r="2.5"/>
<circle cx="1572.9" cy="306.5" r="2.5"/>
<circle cx="1584.2" cy="307.9" r="2.5"/>
<circle cx="1585.7" cy="316.5" r="2.5"/>
<circle cx="1557.9" cy="320.7" r="2.5"/>
<circle cx="1570.0" cy="322.9" r="2.5"/>
<circle cx="1580.7" cy="333.5" r="2.5"/>
<circle cx="1573.9" cy="344.2" r="2.5"/>
<circle cx="1586.7" cy="342.1" r="2.5"/>
<circle cx="1587.4" cy="346.0" r="2.5"/>
<circle cx="1559.7" cy="346.0" r="2.5"/>
<circle cx="1562.5" cy="352.0" r="2.5"/>
<circle cx="1581.7" cy="350.9" r="2.5"/>
<circle cx="1557.2" cy="353.8" r="2.5"/>
<circle cx="1555.1" cy="358.4" r="2.5"/>
<circle cx="1557.6" cy="362.7" r="2.5"/>
<circle cx="1560.4" cy="364.5" r="2.5"/>
<circle cx="1580.0" cy="362.0" r="2.5"/>
<circle cx="1578.9" cy="364.5" r="2.5"/>
<circle cx="1563.3" cy="369.1" r="2.5"/>
<circle cx="1585.7" cy="377.6" r="2.5"/>
<circle cx="1564.0" cy="379.0" r="2.5"/>
<circle cx="1581.7" cy="382.2" r="2.5"/>
<circle cx="1563.6" cy="384.0" r="2.5"/>
<circle cx="1572.9" cy="385.4" r="2.5"/>
<circle cx="1555.1" cy="387.9" r="2.5"/>
<circle cx="1584.2" cy="388.3" r="2.5"/>
<circle cx="1583.5" cy="399.7" r="2.5"/>
<circle cx="1566.5" cy="399.7" r="2.5"/>
<circle cx="1575.3" cy="401.1" r="2.5"/>
<circle cx="1581.0" cy="402.1" r="2.5"/>
<circle cx="1556.9" cy="403.6" r="2.5"/>
<circle cx="1560.4" cy="403.6" r="2.5"/>
<circle cx="1576.4" cy="405.3" r="2.5"/>
<circle cx="1578.9" cy="407.1" r="2.5"/>
<circle cx="1579.6" cy="410.0" r="2.5"/>
<circle cx="1565.0" cy="414.2" r="2.5"/>
<circle cx="1567.5" cy="416.7" r="2.5"/>
<circle cx="1565.4" cy="419.6" r="2.5"/>
<circle cx="1585.3" cy="423.1" r="2.5"/>
<circle cx="1556.1" cy="424.2" r="2.5"/>
<circle cx="1564.7" cy="423.1" r="2.5"/>
<circle cx="1584.9" cy="429.2" r="2.5"/>
<circle cx="1587.4" cy="561.8" r="2.5"/>
<circle cx="1586.7" cy="564.6" r="2.5"/>
<circle cx="1559.3" cy="565.7" r="2.5"/>
<circle cx="1565.0" cy="565.7" r="2.5"/>
<circle cx="1555.1" cy="570.7" r="2.5"/>
<circle cx="1564.7" cy="571.0" r="2.5"/>
<circle cx="1573.2" cy="570.7" r="2.5"/>
<circle cx="1554.7" cy="579.6" r="2.5"/>
<circle cx="1559.3" cy="579.6" r="2.5"/>
<circle cx="1585.3" cy="580.6" r="2.5"/>
<circle cx="1573.2" cy="581.3" r="2.5"/>
<circle cx="1556.9" cy="586.7" r="2.5"/>
<circle cx="1573.2" cy="592.0" r="2.5"/>
<circle cx="1586.7" cy="596.3" r="2.5"/>
<circle cx="1564.7" cy="605.5" r="2.5"/>
<circle cx="1567.5" cy="606.9" r="2.5"/>
<circle cx="1584.9" cy="605.5" r="2.5"/>
<circle cx="1568.9" cy="612.6" r="2.5"/>
<circle cx="1566.8" cy="616.2" r="2.5"/>
<circle cx="1573.9" cy="617.6" r="2.5"/>
<circle cx="1561.1" cy="620.5" r="2.5"/>
<circle cx="1566.5" cy="622.2" r="2.5"/>
<circle cx="1579.6" cy="621.2" r="2.5"/>
<circle cx="1584.9" cy="620.5" r="2.5"/>
<circle cx="1554.7" cy="633.6" r="2.5"/>
<circle cx="1576.1" cy="635.0" r="2.5"/>
<circle cx="1561.1" cy="641.1" r="2.5"/>
<circle cx="1571.8" cy="640.7" r="2.5"/>
<circle cx="1583.2" cy="642.9" r="2.5"/>
<circle cx="1556.1" cy="645.3" r="2.5"/>
<circle cx="1570.0" cy="652.5" r="2.5"/>
<circle cx="1577.1" cy="656.7" r="2.5"/>
<circle cx="1559.3" cy="660.3" r="2.5"/>
<circle cx="1581.7" cy="662.4" r="2.5"/>
<circle cx="1568.2" cy="668.5" r="2.5"/>
<circle cx="1557.9" cy="673.1" r="2.5"/>
<circle cx="1560.4" cy="677.3" r="2.5"/>
<circle cx="1583.2" cy="673.8" r="2.5"/>
<circle cx="1585.3" cy="674.9" r="2.5"/>
<circle cx="1575.3" cy="687.3" r="2.5"/>
<circle cx="1578.2" cy="688.7" r="2.5"/>
<circle cx="1558.3" cy="690.5" r="2.5"/>
<circle cx="1554.7" cy="694.4" r="2.5"/>
<circle cx="1556.1" cy="695.8" r="2.5"/>
<circle cx="1577.8" cy="695.1" r="2.5"/>
<circle cx="1575.3" cy="699.4" r="2.5"/>
<circle cx="1563.3" cy="702.2" r="2.5"/>
<circle cx="1571.8" cy="701.5" r="2.5"/>
<circle cx="1562.9" cy="705.8" r="2.5"/>
<circle cx="1577.8" cy="711.1" r="2.5"/>
<circle cx="1581.0" cy="720.0" r="2.5"/>
<circle cx="1574.3" cy="731.0" r="2.5"/>
<circle cx="1587.1" cy="742.8" r="2.5"/>
<circle cx="1559.3" cy="750.6" r="2.5"/>
<circle cx="1575.3" cy="750.9" r="2.5"/>
<circle cx="1586.7" cy="750.9" r="2.5"/>
<circle cx="1567.7" cy="439.6" r="2.5"/>
<circle cx="1581.1" cy="439.6" r="2.5"/>
<circle cx="1556.1" cy="443.6" r="2.5"/>
<circle cx="1565.4" cy="443.6" r="2.5"/>
<circle cx="1569.4" cy="444.7" r="2.5"/>
<circle cx="1585.3" cy="448.1" r="2.5"/>
<circle cx="1587.5" cy="448.1" r="2.5"/>
<circle cx="1556.3" cy="449.2" r="2.5"/>
<circle cx="1559.2" cy="448.7" r="2.5"/>
<circle cx="1556.1" cy="452.1" r="2.5"/>
<circle cx="1563.1" cy="454.3" r="2.5"/>
<circle cx="1578.1" cy="454.3" r="2.5"/>
<circle cx="1556.3" cy="457.8" r="2.5"/>
<circle cx="1562.2" cy="457.8" r="2.5"/>
<circle cx="1571.6" cy="458.3" r="2.5"/>
<circle cx="1577.3" cy="458.3" r="2.5"/>
<circle cx="1577.7" cy="463.4" r="2.5"/>
<circle cx="1556.3" cy="464.6" r="2.5"/>
<circle cx="1567.7" cy="465.1" r="2.5"/>
<circle cx="1559.7" cy="465.1" r="2.5"/>
<circle cx="1556.3" cy="467.4" r="2.5"/>
<circle cx="1562.2" cy="468.0" r="2.5"/>
<circle cx="1578.1" cy="469.1" r="2.5"/>
<circle cx="1560.9" cy="470.8" r="2.5"/>
<circle cx="1575.6" cy="471.9" r="2.5"/>
<circle cx="1581.3" cy="473.6" r="2.5"/>
<circle cx="1566.0" cy="473.6" r="2.5"/>
<circle cx="1569.9" cy="474.2" r="2.5"/>
<circle cx="1561.4" cy="476.5" r="2.5"/>
<circle cx="1554.6" cy="478.5" r="2.5"/>
<circle cx="1586.4" cy="478.8" r="2.5"/>
<circle cx="1566.0" cy="481.0" r="2.5"/>
<circle cx="1572.2" cy="481.0" r="2.5"/>
<circle cx="1565.4" cy="484.4" r="2.5"/>
<circle cx="1569.9" cy="485.0" r="2.5"/>
<circle cx="1586.7" cy="485.6" r="2.5"/>
<circle cx="1560.3" cy="489.0" r="2.5"/>
<circle cx="1577.3" cy="487.8" r="2.5"/>
<circle cx="1581.9" cy="489.5" r="2.5"/>
<circle cx="1568.8" cy="490.1" r="2.5"/>
<circle cx="1573.9" cy="497.5" r="2.5"/>
<circle cx="1559.2" cy="502.0" r="2.5"/>
<circle cx="1563.1" cy="503.7" r="2.5"/>
<circle cx="1567.7" cy="504.9" r="2.5"/>
<circle cx="1575.6" cy="503.2" r="2.5"/>
<circle cx="1578.5" cy="505.4" r="2.5"/>
<circle cx="1580.2" cy="508.3" r="2.5"/>
<circle cx="1574.5" cy="509.4" r="2.5"/>
<circle cx="1572.8" cy="511.7" r="2.5"/>
<circle cx="1586.2" cy="511.7" r="2.5"/>
<circle cx="1554.6" cy="511.9" r="2.5"/>
<circle cx="1556.9" cy="511.9" r="2.5"/>
<circle cx="1564.8" cy="512.2" r="2.5"/>
<circle cx="1561.4" cy="515.6" r="2.5"/>
<circle cx="1565.4" cy="517.3" r="2.5"/>
<circle cx="1580.7" cy="519.6" r="2.5"/>
<circle cx="1554.6" cy="519.0" r="2.5"/>
<circle cx="1557.5" cy="521.9" r="2.5"/>
<circle cx="1560.3" cy="522.5" r="2.5"/>
<circle cx="1582.2" cy="524.2" r="2.5"/>
<circle cx="1554.6" cy="526.4" r="2.5"/>
<circle cx="1563.7" cy="525.3" r="2.5"/>
<circle cx="1568.2" cy="523.0" r="2.5"/>
<circle cx="1572.8" cy="524.7" r="2.5"/>
<circle cx="1570.5" cy="527.0" r="2.5"/>
<circle cx="1578.5" cy="527.6" r="2.5"/>
<circle cx="1581.3" cy="533.2" r="2.5"/>
<circle cx="1562.0" cy="533.8" r="2.5"/>
<circle cx="1572.8" cy="534.9" r="2.5"/>
<circle cx="1582.4" cy="537.2" r="2.5"/>
<circle cx="1569.9" cy="537.8" r="2.5"/>
<circle cx="1566.0" cy="539.5" r="2.5"/>
<circle cx="1562.9" cy="540.6" r="2.5"/>
<circle cx="1577.7" cy="542.9" r="2.5"/>
<circle cx="1569.9" cy="546.9" r="2.5"/>
<circle cx="1576.8" cy="550.3" r="2.5"/>
<circle cx="1578.5" cy="552.5" r="2.5"/>
<circle cx="1566.0" cy="553.7" r="2.5"/>
<circle cx="1569.9" cy="556.2" r="2.5"/>
<circle cx="1581.9" cy="557.1" r="2.5"/>
<circle cx="1560.9" cy="557.1" r="2.5"/>
<circle cx="1556.3" cy="558.8" r="2.5"/>
<circle cx="1558.6" cy="560.5" r="2.5"/>
<circle cx="1572.8" cy="497.8" r="2.5"/>
<circle cx="1570.0" cy="445.9" r="2.5"/>
<circle cx="1573.6" cy="491.7" r="2.5"/>
<circle cx="1571.4" cy="527.3" r="2.5"/>
<circle cx="1579.8" cy="478.3" r="2.5"/>
<circle cx="1565.1" cy="537.3" r="2.5"/>
<circle cx="1580.3" cy="537.7" r="2.5"/>
<circle cx="1557.3" cy="471.3" r="2.5"/>
<circle cx="1584.9" cy="439.5" r="2.5"/>
<circle cx="1574.5" cy="475.7" r="2.5"/>
<circle cx="1556.5" cy="530.3" r="2.5"/>
<circle cx="1557.8" cy="489.5" r="2.5"/>
<circle cx="1563.3" cy="526.7" r="2.5"/>
<circle cx="1569.9" cy="544.3" r="2.5"/>
<circle cx="1581.3" cy="499.1" r="2.5"/>
<circle cx="1575.2" cy="490.5" r="2.5"/>
<circle cx="1575.9" cy="492.6" r="2.5"/>
<circle cx="1564.3" cy="497.3" r="2.5"/>
<circle cx="1585.9" cy="437.8" r="2.5"/>
<circle cx="1577.2" cy="455.1" r="2.5"/>
<circle cx="1562.9" cy="512.9" r="2.5"/>
<circle cx="1558.1" cy="515.8" r="2.5"/>
</g>
<line x1="86.0" y1="1145.2" x2="86.0" y2="1464.6" stroke="#000" stroke-width="1.6"/>
<line x1="75.0" y1="1145.2" x2="86.0" y2="1145.2" stroke="#000" stroke-width="1.6"/>
<text x="61.5" y="1145.2" font-size="17.2" text-anchor="middle" transform="rotate(-90 61.5 1145.2)" >1e−03</text>
<line x1="75.0" y1="1225.0" x2="86.0" y2="1225.0" stroke="#000" stroke-width="1.6"/>
<text x="61.5" y="1225.0" font-size="17.2" text-anchor="middle" transform="rotate(-90 61.5 1225.0)" >8e−04</text>
<line x1="75.0" y1="1304.9" x2="86.0" y2="1304.9" stroke="#000" stroke-width="1.6"/>
<text x="61.5" y="1304.9" font-size="17.2" text-anchor="middle" transform="rotate(-90 61.5 1304.9)" >6e−04</text>
<line x1="75.0" y1="1384.8" x2="86.0" y2="1384.8" stroke="#000" stroke-width="1.6"/>
<text x="61.5" y="1384.8" font-size="17.2" text-anchor="middle" transform="rotate(-90 61.5 1384.8)" >4e−04</text>
<line x1="75.0" y1="1464.6" x2="86.0" y2="1464.6" stroke="#000" stroke-width="1.6"/>
<text x="61.5" y="1464.6" font-size="17.2" text-anchor="middle" transform="rotate(-90 61.5 1464.6)" >2e−04</text>
<line x1="111.3" y1="1486.8" x2="658.0" y2="1486.8" stroke="#000" stroke-width="1.6"/>
<line x1="111.3" y1="1486.8" x2="111.3" y2="1497.3" stroke="#000" stroke-width="1.6"/>
<text x="111.3" y="1522.6" font-size="17.2" text-anchor="middle" >0.0002</text>
<line x1="189.4" y1="1486.8" x2="189.4" y2="1497.3" stroke="#000" stroke-width="1.6"/>
<text x="189.4" y="1522.6" font-size="17.2" text-anchor="middle" >0.0004</text>
<line x1="267.5" y1="1486.8" x2="267.5" y2="1497.3" stroke="#000" stroke-width="1.6"/>
<text x="267.5" y="1522.6" font-size="17.2" text-anchor="middle" >0.0006</text>
<line x1="345.6" y1="1486.8" x2="345.6" y2="1497.3" stroke="#000" stroke-width="1.6"/>
<text x="345.6" y="1522.6" font-size="17.2" text-anchor="middle" >0.0008</text>
<line x1="423.7" y1="1486.8" x2="423.7" y2="1497.3" stroke="#000" stroke-width="1.6"/>
<text x="423.7" y="1522.6" font-size="17.2" text-anchor="middle" >0.0010</text>
<line x1="501.8" y1="1486.8" x2="501.8" y2="1497.3" stroke="#000" stroke-width="1.6"/>
<text x="501.8" y="1522.6" font-size="17.2" text-anchor="middle" >0.0012</text>
<line x1="579.9" y1="1486.8" x2="579.9" y2="1497.3" stroke="#000" stroke-width="1.6"/>
<text x="579.9" y="1522.6" font-size="17.2" text-anchor="middle" >0.0014</text>
<line x1="658.0" y1="1486.8" x2="658.0" y2="1497.3" stroke="#000" stroke-width="1.6"/>
<text x="658.0" y="1522.6" font-size="17.2" text-anchor="middle" >0.0016</text>
<text x="31.2" y="1310.0" font-size="21.3" text-anchor="middle" transform="rotate(-90 31.2 1310.0)" >M<tspan font-size="12.8" dy="7.9">muscle </tspan><tspan dy="-7.9">/ M</tspan><tspan font-size="12.8" dy="7.9">body</tspan><tspan dy="-7.9"> (Polygonal modelling)</tspan></text>
<text x="378.7" y="1553.5" font-size="21.3" text-anchor="middle" >Median M<tspan font-size="12.8" dy="6.5">muscle </tspan><tspan dy="-6.5">/ M</tspan><tspan font-size="12.8" dy="6.5">body</tspan><tspan dy="-6.5"> (Physical measurements)</tspan></text>
<line x1="86.0" y1="1476.0" x2="671.3" y2="1245.5" stroke="#DF536B" stroke-width="1.6"/>
<line x1="90" y1="1486.3" x2="433.8" y2="1135.2" stroke="#000" stroke-width="1.5" stroke-dasharray="6.1 6.9" stroke-dashoffset="6.2"/>
<g fill="none" stroke="#000" stroke-width="1.6">
<circle cx="107.4" cy="1466.1" r="4.0"/>
<circle cx="114.3" cy="1456.2" r="4.0"/>
<circle cx="118.7" cy="1413.9" r="4.0"/>
<circle cx="139.7" cy="1456.5" r="4.0"/>
<circle cx="186.4" cy="1443.7" r="4.0"/>
<circle cx="198.2" cy="1420.1" r="4.0"/>
<circle cx="212.5" cy="1454.3" r="4.0"/>
<circle cx="217.6" cy="1399.6" r="4.0"/>
<circle cx="218.0" cy="1419.0" r="4.0"/>
<circle cx="232.4" cy="1473.5" r="4.0"/>
<circle cx="269.1" cy="1386.7" r="4.0"/>
<circle cx="333.1" cy="1366.8" r="4.0"/>
<circle cx="370.2" cy="1340.4" r="4.0"/>
<circle cx="382.7" cy="1340.7" r="4.0"/>
<circle cx="371.7" cy="1441.8" r="4.0"/>
<circle cx="446.7" cy="1364.3" r="4.0"/>
<circle cx="462.5" cy="1362.8" r="4.0"/>
<circle cx="563.2" cy="1309.9" r="4.0"/>
<circle cx="616.2" cy="1145.5" r="4.0"/>
<circle cx="649.3" cy="1290.4" r="4.0"/>
</g>
<line x1="753.3" y1="1145.0" x2="753.3" y2="1463.4" stroke="#000" stroke-width="1.6"/>
<line x1="742.3" y1="1145.0" x2="753.3" y2="1145.0" stroke="#000" stroke-width="1.6"/>
<text x="728.8" y="1145.0" font-size="17.2" text-anchor="middle" transform="rotate(-90 728.8 1145.0)" >6e−04</text>
<line x1="742.3" y1="1208.7" x2="753.3" y2="1208.7" stroke="#000" stroke-width="1.6"/>
<text x="728.8" y="1208.7" font-size="17.2" text-anchor="middle" transform="rotate(-90 728.8 1208.7)" >5e−04</text>
<line x1="742.3" y1="1272.4" x2="753.3" y2="1272.4" stroke="#000" stroke-width="1.6"/>
<text x="728.8" y="1272.4" font-size="17.2" text-anchor="middle" transform="rotate(-90 728.8 1272.4)" >4e−04</text>
<line x1="742.3" y1="1336.0" x2="753.3" y2="1336.0" stroke="#000" stroke-width="1.6"/>
<text x="728.8" y="1336.0" font-size="17.2" text-anchor="middle" transform="rotate(-90 728.8 1336.0)" >3e−04</text>
<line x1="742.3" y1="1399.7" x2="753.3" y2="1399.7" stroke="#000" stroke-width="1.6"/>
<text x="728.8" y="1399.7" font-size="17.2" text-anchor="middle" transform="rotate(-90 728.8 1399.7)" >2e−04</text>
<line x1="742.3" y1="1463.4" x2="753.3" y2="1463.4" stroke="#000" stroke-width="1.6"/>
<text x="728.8" y="1463.4" font-size="17.2" text-anchor="middle" transform="rotate(-90 728.8 1463.4)" >1e−04</text>
<line x1="778.4" y1="1486.8" x2="1324.8" y2="1486.8" stroke="#000" stroke-width="1.6"/>
<line x1="778.4" y1="1486.8" x2="778.4" y2="1497.3" stroke="#000" stroke-width="1.6"/>
<text x="778.4" y="1522.6" font-size="17.2" text-anchor="middle" >0.0002</text>
<line x1="856.4" y1="1486.8" x2="856.4" y2="1497.3" stroke="#000" stroke-width="1.6"/>
<text x="856.4" y="1522.6" font-size="17.2" text-anchor="middle" >0.0004</text>
<line x1="934.5" y1="1486.8" x2="934.5" y2="1497.3" stroke="#000" stroke-width="1.6"/>
<text x="934.5" y="1522.6" font-size="17.2" text-anchor="middle" >0.0006</text>
<line x1="1012.5" y1="1486.8" x2="1012.5" y2="1497.3" stroke="#000" stroke-width="1.6"/>
<text x="1012.5" y="1522.6" font-size="17.2" text-anchor="middle" >0.0008</text>
<line x1="1090.6" y1="1486.8" x2="1090.6" y2="1497.3" stroke="#000" stroke-width="1.6"/>
<text x="1090.6" y="1522.6" font-size="17.2" text-anchor="middle" >0.0010</text>
<line x1="1168.7" y1="1486.8" x2="1168.7" y2="1497.3" stroke="#000" stroke-width="1.6"/>
<text x="1168.7" y="1522.6" font-size="17.2" text-anchor="middle" >0.0012</text>
<line x1="1246.7" y1="1486.8" x2="1246.7" y2="1497.3" stroke="#000" stroke-width="1.6"/>
<text x="1246.7" y="1522.6" font-size="17.2" text-anchor="middle" >0.0014</text>
<line x1="1324.8" y1="1486.8" x2="1324.8" y2="1497.3" stroke="#000" stroke-width="1.6"/>
<text x="1324.8" y="1522.6" font-size="17.2" text-anchor="middle" >0.0016</text>
<text x="698.2" y="1310.0" font-size="21.3" text-anchor="middle" transform="rotate(-90 698.2 1310.0)" >M<tspan font-size="12.8" dy="7.9">muscle </tspan><tspan dy="-7.9">/ M</tspan><tspan font-size="12.8" dy="7.9">body</tspan><tspan dy="-7.9"> (diceCT segmentation)</tspan></text>
<text x="1045.1" y="1553.5" font-size="21.3" text-anchor="middle" >Median M<tspan font-size="12.8" dy="6.5">muscle </tspan><tspan dy="-6.5">/ M</tspan><tspan font-size="12.8" dy="6.5">body</tspan><tspan dy="-6.5"> (Physical measurements)</tspan></text>
<line x1="753.3" y1="1438.2" x2="1334.6" y2="1132.3" stroke="#DF536B" stroke-width="1.6"/>
<line x1="754.5" y1="1439" x2="943.1" y2="1132.3" stroke="#000" stroke-width="1.5" stroke-dasharray="6.1 6.9" stroke-dashoffset="4.0"/>
<g fill="none" stroke="#000" stroke-width="1.6">
<circle cx="774.3" cy="1473.5" r="4.0"/>
<circle cx="786.1" cy="1466.1" r="4.0"/>
<circle cx="806.7" cy="1432.6" r="4.0"/>
<circle cx="853.4" cy="1421.2" r="4.0"/>
<circle cx="879.5" cy="1422.4" r="4.0"/>
<circle cx="865.1" cy="1384.9" r="4.0"/>
<circle cx="885.4" cy="1340.4" r="4.0"/>
<circle cx="885.0" cy="1285.6" r="4.0"/>
<circle cx="936.1" cy="1247.0" r="4.0"/>
<circle cx="1000.1" cy="1270.9" r="4.0"/>
<circle cx="1113.7" cy="1230.4" r="4.0"/>
<circle cx="1230.2" cy="1145.5" r="4.0"/>
<circle cx="1316.2" cy="1234.5" r="4.0"/>
</g>
<line x1="1420.5" y1="1172.4" x2="1420.5" y2="1470.9" stroke="#000" stroke-width="1.6"/>
<line x1="1409.5" y1="1172.4" x2="1420.5" y2="1172.4" stroke="#000" stroke-width="1.6"/>
<text x="1396.0" y="1172.4" font-size="17.2" text-anchor="middle" transform="rotate(-90 1396.0 1172.4)" >6e−04</text>
<line x1="1409.5" y1="1247.0" x2="1420.5" y2="1247.0" stroke="#000" stroke-width="1.6"/>
<text x="1396.0" y="1247.0" font-size="17.2" text-anchor="middle" transform="rotate(-90 1396.0 1247.0)" >5e−04</text>
<line x1="1409.5" y1="1321.6" x2="1420.5" y2="1321.6" stroke="#000" stroke-width="1.6"/>
<text x="1396.0" y="1321.6" font-size="17.2" text-anchor="middle" transform="rotate(-90 1396.0 1321.6)" >4e−04</text>
<line x1="1409.5" y1="1396.3" x2="1420.5" y2="1396.3" stroke="#000" stroke-width="1.6"/>
<text x="1396.0" y="1396.3" font-size="17.2" text-anchor="middle" transform="rotate(-90 1396.0 1396.3)" >3e−04</text>
<line x1="1409.5" y1="1470.9" x2="1420.5" y2="1470.9" stroke="#000" stroke-width="1.6"/>
<text x="1396.0" y="1470.9" font-size="17.2" text-anchor="middle" transform="rotate(-90 1396.0 1470.9)" >2e−04</text>
<line x1="1458.8" y1="1486.8" x2="1983.8" y2="1486.8" stroke="#000" stroke-width="1.6"/>
<line x1="1458.8" y1="1486.8" x2="1458.8" y2="1497.3" stroke="#000" stroke-width="1.6"/>
<text x="1458.8" y="1522.6" font-size="17.2" text-anchor="middle" >1e−04</text>
<line x1="1563.8" y1="1486.8" x2="1563.8" y2="1497.3" stroke="#000" stroke-width="1.6"/>
<text x="1563.8" y="1522.6" font-size="17.2" text-anchor="middle" >2e−04</text>
<line x1="1668.8" y1="1486.8" x2="1668.8" y2="1497.3" stroke="#000" stroke-width="1.6"/>
<text x="1668.8" y="1522.6" font-size="17.2" text-anchor="middle" >3e−04</text>
<line x1="1773.8" y1="1486.8" x2="1773.8" y2="1497.3" stroke="#000" stroke-width="1.6"/>
<text x="1773.8" y="1522.6" font-size="17.2" text-anchor="middle" >4e−04</text>
<line x1="1878.8" y1="1486.8" x2="1878.8" y2="1497.3" stroke="#000" stroke-width="1.6"/>
<text x="1878.8" y="1522.6" font-size="17.2" text-anchor="middle" >5e−04</text>
<line x1="1983.8" y1="1486.8" x2="1983.8" y2="1497.3" stroke="#000" stroke-width="1.6"/>
<text x="1981.0" y="1522.6" font-size="17.2" text-anchor="middle" >6e−04</text>
<text x="1365.5" y="1310.0" font-size="21.3" text-anchor="middle" transform="rotate(-90 1365.5 1310.0)" >M<tspan font-size="12.8" dy="7.9">muscle </tspan><tspan dy="-7.9">/ M</tspan><tspan font-size="12.8" dy="7.9">body</tspan><tspan dy="-7.9"> (Polygonal modelling)</tspan></text>
<text x="1712.7" y="1553.5" font-size="21.3" text-anchor="middle" >M<tspan font-size="12.8" dy="6.5">muscle </tspan><tspan dy="-6.5">/ M</tspan><tspan font-size="12.8" dy="6.5">body</tspan><tspan dy="-6.5"> (diceCT segmentation)</tspan></text>
<line x1="1420.5" y1="1477.0" x2="2005.5" y2="1177.1" stroke="#DF536B" stroke-width="1.6"/>
<line x1="1542.3" y1="1486.3" x2="2001.9" y2="1159.9" stroke="#000" stroke-width="1.5" stroke-dasharray="6.1 6.9" stroke-dashoffset="0"/>
<g fill="none" stroke="#000" stroke-width="1.6">
<circle cx="1441.6" cy="1473.5" r="4.0"/>
<circle cx="1453.7" cy="1376.0" r="4.0"/>
<circle cx="1508.8" cy="1456.2" r="4.0"/>
<circle cx="1525.8" cy="1451.8" r="4.0"/>
<circle cx="1527.6" cy="1432.3" r="4.0"/>
<circle cx="1587.5" cy="1388.2" r="4.0"/>
<circle cx="1661.8" cy="1386.3" r="4.0"/>
<circle cx="1751.9" cy="1349.6" r="4.0"/>
<circle cx="1776.1" cy="1288.9" r="4.0"/>
<circle cx="1815.8" cy="1326.4" r="4.0"/>
<circle cx="1843.4" cy="1283.8" r="4.0"/>
<circle cx="1836.0" cy="1145.5" r="4.0"/>
<circle cx="1983.8" cy="1181.5" r="4.0"/>
</g>
<rect x="88.3" y="1642.1" width="581.5" height="83.0" fill="#E5E5E5"/>
<rect x="88.3" y="1761.9" width="581.5" height="48.9" fill="#E5E5E5"/>
<rect x="88.3" y="1846.1" width="581.5" height="84.6" fill="#E5E5E5"/>
<g fill="#fff" fill-opacity="0.85">
<circle cx="134.6" cy="1727.0" r="5.0"/>
<circle cx="144.5" cy="1725.5" r="5.0"/>
<circle cx="159.2" cy="1738.0" r="5.0"/>
<circle cx="171.7" cy="1708.6" r="5.0"/>
<circle cx="194.1" cy="1753.8" r="5.0"/>
<circle cx="203.7" cy="1771.1" r="5.0"/>
<circle cx="204.4" cy="1789.1" r="5.0"/>
<circle cx="215.1" cy="1748.7" r="5.0"/>
<circle cx="227.2" cy="1757.5" r="5.0"/>
<circle cx="238.6" cy="1748.3" r="5.0"/>
<circle cx="276.5" cy="1766.7" r="5.0"/>
<circle cx="305.5" cy="1840.2" r="5.0"/>
<circle cx="325.7" cy="1787.3" r="5.0"/>
<circle cx="363.6" cy="1792.8" r="5.0"/>
<circle cx="370.6" cy="1798.7" r="5.0"/>
<circle cx="394.9" cy="1839.9" r="5.0"/>
<circle cx="404.8" cy="1846.5" r="5.0"/>
<circle cx="495.6" cy="1869.6" r="5.0"/>
<circle cx="558.1" cy="1901.2" r="5.0"/>
<circle cx="622.1" cy="1818.9" r="5.0"/>
</g>
<line x1="86.4" y1="1684.3" x2="671.7" y2="1684.3" stroke="#000" stroke-width="1.5" stroke-dasharray="6.5 6.45" stroke-dashoffset="1.2"/>
<line x1="86.4" y1="1786.2" x2="671.7" y2="1786.2" stroke="#000" stroke-width="1.5" stroke-dasharray="6.5 6.45" stroke-dashoffset="1.2"/>
<line x1="86.4" y1="1888.4" x2="671.7" y2="1888.4" stroke="#000" stroke-width="1.5" stroke-dasharray="6.5 6.45" stroke-dashoffset="1.2"/>
<line x1="86.4" y1="1728.1" x2="671.7" y2="1728.1" stroke="#000" stroke-width="1.6"/>
<rect x="86.4" y="1609.4" width="585.3" height="353.8" fill="none" stroke="#000" stroke-width="1.6"/>
<line x1="75.4" y1="1636.5" x2="86.4" y2="1636.5" stroke="#000" stroke-width="1.6"/>
<text x="61.5" y="1636.5" font-size="17.2" text-anchor="middle" transform="rotate(-90 61.5 1636.5)" >5e−04</text>
<line x1="75.4" y1="1728.1" x2="86.4" y2="1728.1" stroke="#000" stroke-width="1.6"/>
<text x="61.5" y="1728.1" font-size="17.2" text-anchor="middle" transform="rotate(-90 61.5 1728.1)" >0e+00</text>
<line x1="75.4" y1="1819.6" x2="86.4" y2="1819.6" stroke="#000" stroke-width="1.6"/>
<text x="61.5" y="1819.6" font-size="17.2" text-anchor="middle" transform="rotate(-90 61.5 1819.6)" >−5e−04</text>
<line x1="75.4" y1="1911.5" x2="86.4" y2="1911.5" stroke="#000" stroke-width="1.6"/>
<text x="61.5" y="1911.5" font-size="17.2" text-anchor="middle" transform="rotate(-90 61.5 1911.5)" >−1e−03</text>
<line x1="137.5" y1="1963.2" x2="137.5" y2="1973.7" stroke="#000" stroke-width="1.6"/>
<text x="137.5" y="2000.1" font-size="17.2" text-anchor="middle" >0.0002</text>
<line x1="230.2" y1="1963.2" x2="230.2" y2="1973.7" stroke="#000" stroke-width="1.6"/>
<text x="230.2" y="2000.1" font-size="17.2" text-anchor="middle" >0.0004</text>
<line x1="322.8" y1="1963.2" x2="322.8" y2="1973.7" stroke="#000" stroke-width="1.6"/>
<text x="322.8" y="2000.1" font-size="17.2" text-anchor="middle" >0.0006</text>
<line x1="415.5" y1="1963.2" x2="415.5" y2="1973.7" stroke="#000" stroke-width="1.6"/>
<text x="415.5" y="2000.1" font-size="17.2" text-anchor="middle" >0.0008</text>
<line x1="508.1" y1="1963.2" x2="508.1" y2="1973.7" stroke="#000" stroke-width="1.6"/>
<text x="508.1" y="2000.1" font-size="17.2" text-anchor="middle" >0.0010</text>
<line x1="600.8" y1="1963.2" x2="600.8" y2="1973.7" stroke="#000" stroke-width="1.6"/>
<text x="600.8" y="2000.1" font-size="17.2" text-anchor="middle" >0.0012</text>
<text x="31.3" y="1786.2" font-size="21.3" text-anchor="middle" transform="rotate(-90 31.3 1786.2)" >Differences M<tspan font-size="12.8" dy="7.9">muscle </tspan><tspan dy="-7.9">/ M</tspan><tspan font-size="12.8" dy="7.9">body</tspan></text>
<text x="378.7" y="2030.7" font-size="21.3" text-anchor="middle" >Means M<tspan font-size="12.8" dy="6.5">muscle </tspan><tspan dy="-6.5">/ M</tspan><tspan font-size="12.8" dy="6.5">body</tspan></text>
<g fill="#000">
<circle cx="134.6" cy="1727.0" r="3.9"/>
<circle cx="144.5" cy="1725.5" r="3.9"/>
<circle cx="159.2" cy="1738.0" r="3.9"/>
<circle cx="171.7" cy="1708.6" r="3.9"/>
<circle cx="194.1" cy="1753.8" r="3.9"/>
<circle cx="203.7" cy="1771.1" r="3.9"/>
<circle cx="204.4" cy="1789.1" r="3.9"/>
<circle cx="215.1" cy="1748.7" r="3.9"/>
<circle cx="227.2" cy="1757.5" r="3.9"/>
<circle cx="238.6" cy="1748.3" r="3.9"/>
<circle cx="276.5" cy="1766.7" r="3.9"/>
<circle cx="305.5" cy="1840.2" r="3.9"/>
<circle cx="325.7" cy="1787.3" r="3.9"/>
<circle cx="363.6" cy="1792.8" r="3.9"/>
<circle cx="370.6" cy="1798.7" r="3.9"/>
<circle cx="394.9" cy="1839.9" r="3.9"/>
<circle cx="404.8" cy="1846.5" r="3.9"/>
<circle cx="495.6" cy="1869.6" r="3.9"/>
<circle cx="558.1" cy="1901.2" r="3.9"/>
<circle cx="622.1" cy="1818.9" r="3.9"/>
</g>
<rect x="755.5" y="1638.9" width="581.3" height="103.3" fill="#E5E5E5"/>
<rect x="755.5" y="1756.6" width="581.3" height="59.2" fill="#E5E5E5"/>
<rect x="755.5" y="1830.3" width="581.3" height="103.7" fill="#E5E5E5"/>
<g fill="#fff" fill-opacity="0.85">
<circle cx="801.9" cy="1750.1" r="5.0"/>
<circle cx="812.9" cy="1753.1" r="5.0"/>
<circle cx="842.0" cy="1753.1" r="5.0"/>
<circle cx="879.9" cy="1769.3" r="5.0"/>
<circle cx="897.9" cy="1780.3" r="5.0"/>
<circle cx="904.1" cy="1764.9" r="5.0"/>
<circle cx="937.9" cy="1761.9" r="5.0"/>
<circle cx="961.5" cy="1748.3" r="5.0"/>
<circle cx="1014.8" cy="1759.7" r="5.0"/>
<circle cx="1049.3" cy="1791.3" r="5.0"/>
<circle cx="1147.5" cy="1827.4" r="5.0"/>
<circle cx="1267.4" cy="1853.5" r="5.0"/>
<circle cx="1289.4" cy="1910.4" r="5.0"/>
</g>
<line x1="753.6" y1="1690.6" x2="1338.7" y2="1690.6" stroke="#000" stroke-width="1.5" stroke-dasharray="6.5 6.45" stroke-dashoffset="1.2"/>
<line x1="753.6" y1="1786.3" x2="1338.7" y2="1786.3" stroke="#000" stroke-width="1.5" stroke-dasharray="6.5 6.45" stroke-dashoffset="1.2"/>
<line x1="753.6" y1="1882.3" x2="1338.7" y2="1882.3" stroke="#000" stroke-width="1.5" stroke-dasharray="6.5 6.45" stroke-dashoffset="1.2"/>
<line x1="753.6" y1="1732.9" x2="1338.7" y2="1732.9" stroke="#000" stroke-width="1.6"/>
<rect x="753.6" y="1609.4" width="585.1" height="353.8" fill="none" stroke="#000" stroke-width="1.6"/>
<line x1="742.6" y1="1654.6" x2="753.6" y2="1654.6" stroke="#000" stroke-width="1.6"/>
<text x="728.8" y="1654.6" font-size="17.2" text-anchor="middle" transform="rotate(-90 728.8 1654.6)" >5e−04</text>
<line x1="742.6" y1="1732.9" x2="753.6" y2="1732.9" stroke="#000" stroke-width="1.6"/>
<text x="728.8" y="1732.9" font-size="17.2" text-anchor="middle" transform="rotate(-90 728.8 1732.9)" >0e+00</text>
<line x1="742.6" y1="1812.3" x2="753.6" y2="1812.3" stroke="#000" stroke-width="1.6"/>
<text x="728.8" y="1812.3" font-size="17.2" text-anchor="middle" transform="rotate(-90 728.8 1812.3)" >−5e−04</text>
<line x1="742.6" y1="1891.5" x2="753.6" y2="1891.5" stroke="#000" stroke-width="1.6"/>
<text x="728.8" y="1891.5" font-size="17.2" text-anchor="middle" transform="rotate(-90 728.8 1891.5)" >−1e−03</text>
<line x1="836.6" y1="1963.2" x2="836.6" y2="1973.7" stroke="#000" stroke-width="1.6"/>
<text x="836.6" y="2000.1" font-size="17.2" text-anchor="middle" >2e−04</text>
<line x1="947.2" y1="1963.2" x2="947.2" y2="1973.7" stroke="#000" stroke-width="1.6"/>
<text x="947.2" y="2000.1" font-size="17.2" text-anchor="middle" >4e−04</text>
<line x1="1057.8" y1="1963.2" x2="1057.8" y2="1973.7" stroke="#000" stroke-width="1.6"/>
<text x="1057.8" y="2000.1" font-size="17.2" text-anchor="middle" >6e−04</text>
<line x1="1168.4" y1="1963.2" x2="1168.4" y2="1973.7" stroke="#000" stroke-width="1.6"/>
<text x="1168.4" y="2000.1" font-size="17.2" text-anchor="middle" >8e−04</text>
<line x1="1279.1" y1="1963.2" x2="1279.1" y2="1973.7" stroke="#000" stroke-width="1.6"/>
<text x="1279.1" y="2000.1" font-size="17.2" text-anchor="middle" >1e−03</text>
<text x="698.6" y="1786.2" font-size="21.3" text-anchor="middle" transform="rotate(-90 698.6 1786.2)" >Differences M<tspan font-size="12.8" dy="7.9">muscle </tspan><tspan dy="-7.9">/ M</tspan><tspan font-size="12.8" dy="7.9">body</tspan></text>
<text x="1045.7" y="2030.7" font-size="21.3" text-anchor="middle" >Means M<tspan font-size="12.8" dy="6.5">muscle </tspan><tspan dy="-6.5">/ M</tspan><tspan font-size="12.8" dy="6.5">body</tspan></text>
<g fill="#000">
<circle cx="801.9" cy="1750.1" r="3.9"/>
<circle cx="812.9" cy="1753.1" r="3.9"/>
<circle cx="842.0" cy="1753.1" r="3.9"/>
<circle cx="879.9" cy="1769.3" r="3.9"/>
<circle cx="897.9" cy="1780.3" r="3.9"/>
<circle cx="904.1" cy="1764.9" r="3.9"/>
<circle cx="937.9" cy="1761.9" r="3.9"/>
<circle cx="961.5" cy="1748.3" r="3.9"/>
<circle cx="1014.8" cy="1759.7" r="3.9"/>
<circle cx="1049.3" cy="1791.3" r="3.9"/>
<circle cx="1147.5" cy="1827.4" r="3.9"/>
<circle cx="1267.4" cy="1853.5" r="3.9"/>
<circle cx="1289.4" cy="1910.4" r="3.9"/>
</g>
<rect x="1422.1" y="1639.1" width="581.5" height="103.7" fill="#E5E5E5"/>
<rect x="1422.1" y="1756.8" width="581.5" height="58.8" fill="#E5E5E5"/>
<rect x="1422.1" y="1830.3" width="581.5" height="103.3" fill="#E5E5E5"/>
<g fill="#fff" fill-opacity="0.85">
<circle cx="1468.8" cy="1755.3" r="5.0"/>
<circle cx="1515.5" cy="1780.3" r="5.0"/>
<circle cx="1527.2" cy="1786.5" r="5.0"/>
<circle cx="1542.7" cy="1771.5" r="5.0"/>
<circle cx="1545.2" cy="1682.9" r="5.0"/>
<circle cx="1604.8" cy="1770.4" r="5.0"/>
<circle cx="1644.1" cy="1811.9" r="5.0"/>
<circle cx="1716.9" cy="1833.6" r="5.0"/>
<circle cx="1766.6" cy="1851.6" r="5.0"/>
<circle cx="1773.2" cy="1798.3" r="5.0"/>
<circle cx="1811.0" cy="1832.9" r="5.0"/>
<circle cx="1907.0" cy="1716.7" r="5.0"/>
<circle cx="1956.3" cy="1831.4" r="5.0"/>
</g>
<line x1="1420.2" y1="1690.6" x2="2005.5" y2="1690.6" stroke="#000" stroke-width="1.5" stroke-dasharray="6.5 6.45" stroke-dashoffset="1.2"/>
<line x1="1420.2" y1="1786.5" x2="2005.5" y2="1786.5" stroke="#000" stroke-width="1.5" stroke-dasharray="6.5 6.45" stroke-dashoffset="1.2"/>
<line x1="1420.2" y1="1881.8" x2="2005.5" y2="1881.8" stroke="#000" stroke-width="1.5" stroke-dasharray="6.5 6.45" stroke-dashoffset="1.2"/>
<line x1="1420.2" y1="1823.7" x2="2005.5" y2="1823.7" stroke="#000" stroke-width="1.6"/>
<rect x="1420.2" y="1609.4" width="585.3" height="353.8" fill="none" stroke="#000" stroke-width="1.6"/>
<line x1="1409.2" y1="1641.7" x2="1420.2" y2="1641.7" stroke="#000" stroke-width="1.6"/>
<text x="1395.6" y="1641.7" font-size="17.2" text-anchor="middle" transform="rotate(-90 1395.6 1641.7)" >3e−04</text>
<line x1="1409.2" y1="1702.4" x2="1420.2" y2="1702.4" stroke="#000" stroke-width="1.6"/>
<text x="1395.6" y="1702.4" font-size="17.2" text-anchor="middle" transform="rotate(-90 1395.6 1702.4)" >2e−04</text>
<line x1="1409.2" y1="1763.0" x2="1420.2" y2="1763.0" stroke="#000" stroke-width="1.6"/>
<text x="1395.6" y="1763.0" font-size="17.2" text-anchor="middle" transform="rotate(-90 1395.6 1763.0)" >1e−04</text>
<line x1="1409.2" y1="1823.7" x2="1420.2" y2="1823.7" stroke="#000" stroke-width="1.6"/>
<text x="1395.6" y="1823.7" font-size="17.2" text-anchor="middle" transform="rotate(-90 1395.6 1823.7)" >0e+00</text>
<line x1="1409.2" y1="1884.3" x2="1420.2" y2="1884.3" stroke="#000" stroke-width="1.6"/>
<text x="1395.6" y="1884.3" font-size="17.2" text-anchor="middle" transform="rotate(-90 1395.6 1884.3)" >−1e−04</text>
<line x1="1409.2" y1="1945.0" x2="1420.2" y2="1945.0" stroke="#000" stroke-width="1.6"/>
<text x="1395.6" y="1945.0" font-size="17.2" text-anchor="middle" transform="rotate(-90 1395.6 1945.0)" >−2e−04</text>
<line x1="1425.4" y1="1963.2" x2="1425.4" y2="1973.7" stroke="#000" stroke-width="1.6"/>
<text x="1425.4" y="2000.1" font-size="17.2" text-anchor="middle" >1e−04</text>
<line x1="1533.1" y1="1963.2" x2="1533.1" y2="1973.7" stroke="#000" stroke-width="1.6"/>
<text x="1533.1" y="2000.1" font-size="17.2" text-anchor="middle" >2e−04</text>
<line x1="1640.7" y1="1963.2" x2="1640.7" y2="1973.7" stroke="#000" stroke-width="1.6"/>
<text x="1640.7" y="2000.1" font-size="17.2" text-anchor="middle" >3e−04</text>
<line x1="1748.4" y1="1963.2" x2="1748.4" y2="1973.7" stroke="#000" stroke-width="1.6"/>
<text x="1748.4" y="2000.1" font-size="17.2" text-anchor="middle" >4e−04</text>
<line x1="1856.0" y1="1963.2" x2="1856.0" y2="1973.7" stroke="#000" stroke-width="1.6"/>
<text x="1856.0" y="2000.1" font-size="17.2" text-anchor="middle" >5e−04</text>
<line x1="1963.7" y1="1963.2" x2="1963.7" y2="1973.7" stroke="#000" stroke-width="1.6"/>
<text x="1963.7" y="2000.1" font-size="17.2" text-anchor="middle" >6e−04</text>
<text x="1365.4" y="1786.2" font-size="21.3" text-anchor="middle" transform="rotate(-90 1365.4 1786.2)" >Differences M<tspan font-size="12.8" dy="7.9">muscle </tspan><tspan dy="-7.9">/ M</tspan><tspan font-size="12.8" dy="7.9">body</tspan></text>
<text x="1712.9" y="2030.7" font-size="21.3" text-anchor="middle" >Means M<tspan font-size="12.8" dy="6.5">muscle </tspan><tspan dy="-6.5">/ M</tspan><tspan font-size="12.8" dy="6.5">body</tspan></text>
<g fill="#000">
<circle cx="1468.8" cy="1755.3" r="3.9"/>
<circle cx="1515.5" cy="1780.3" r="3.9"/>
<circle cx="1527.2" cy="1786.5" r="3.9"/>
<circle cx="1542.7" cy="1771.5" r="3.9"/>
<circle cx="1545.2" cy="1682.9" r="3.9"/>
<circle cx="1604.8" cy="1770.4" r="3.9"/>
<circle cx="1644.1" cy="1811.9" r="3.9"/>
<circle cx="1716.9" cy="1833.6" r="3.9"/>
<circle cx="1766.6" cy="1851.6" r="3.9"/>
<circle cx="1773.2" cy="1798.3" r="3.9"/>
<circle cx="1811.0" cy="1832.9" r="3.9"/>
<circle cx="1907.0" cy="1716.7" r="3.9"/>
<circle cx="1956.3" cy="1831.4" r="3.9"/>
</g>
</svg>
</body></html>
